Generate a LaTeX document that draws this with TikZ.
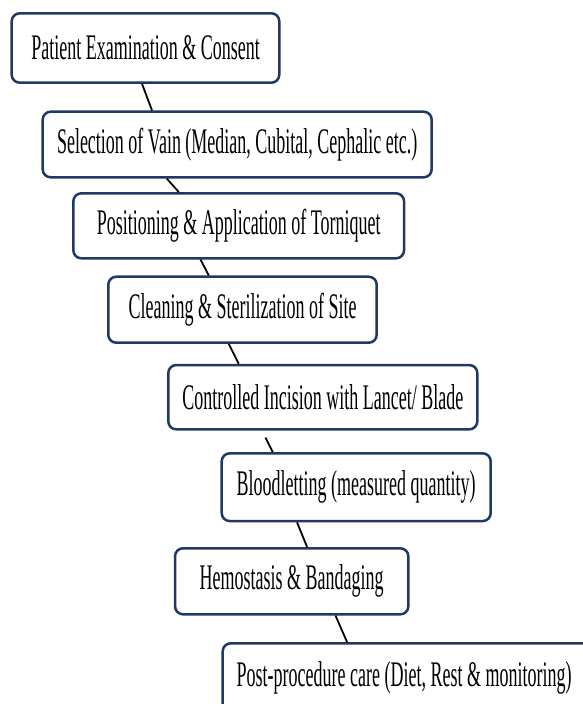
\documentclass[tikz,border=0pt]{standalone}
\usepackage{fontspec}
\setmainfont[FakeStretch=0.5]{Liberation Serif}
\usepackage{tikz}
\usetikzlibrary{positioning}
\definecolor{navy}{HTML}{1F3864}

\begin{document}
\begin{tikzpicture}[x=1pt, y=-1pt,
  every node/.style={font=\fontsize{36}{40}\selectfont},
  stepbox/.style={draw=navy, line width=2.5pt, rounded corners=8pt, fill=white, inner sep=0pt},
  link/.style={line width=1.8pt, black}]
  % Page frame
  \useasboundingbox (0,0) rectangle (583,704);

  % Steps (top to bottom)
  \node[stepbox, minimum width=267.6, minimum height=69.4] (exam) at (145.5,48) {Patient Examination \& Consent};
  \node[stepbox, minimum width=389, minimum height=65.6] (vein) at (237.2,144.5) {Selection of Vain (Median, Cubital, Cephalic etc.)};
  \node[stepbox, minimum width=330.7, minimum height=65] (tourn) at (238.7,225.8) {Positioning \& Application of Torniquet};
  \node[stepbox, minimum width=268.4, minimum height=66] (clean) at (242.5,309.7) {Cleaning \& Sterilization of Site};
  \node[stepbox, minimum width=309, minimum height=64.3] (incis) at (322.8,397.2) {Controlled Incision with Lancet/ Blade};
  \node[stepbox, minimum width=269, minimum height=67.7] (blood) at (356.2,487.2) {Bloodletting (measured quantity)};
  \node[stepbox, minimum width=233.3, minimum height=66] (hemo) at (291.7,581.3) {Hemostasis \& Bandaging};
  % last box runs past the page edge
  \node[stepbox, minimum height=70] (post) at (412.7,678.3) {\makebox[380pt][l]{\hspace{14pt}Post-procedure care (Diet, Rest \& monitoring)}};

  % Connectors
  \draw[link] ([xshift=131.6pt]exam.south west) -- ([xshift=110.6pt]vein.north west);
  \draw[link] ([xshift=125.3pt]vein.south west) -- ([xshift=106.7pt]tourn.north west);
  \draw[link] ([xshift=128.4pt]tourn.south west) -- ([xshift=101.7pt]clean.north west);
  \draw[link] ([xshift=121.7pt]clean.south west) -- ([xshift=71.7pt]incis.north west);
  \draw[link] ([xshift=98.4pt, yshift=-7pt]incis.south west) -- ([xshift=52.3pt]blood.north west);
  \draw[link] ([xshift=76.6pt]blood.south west) -- ([xshift=133.3pt]hemo.north west);
  \draw[link] ([xshift=161.7pt]hemo.south west) -- ([xshift=125.6pt]post.north west);

\end{tikzpicture}
\end{document}
